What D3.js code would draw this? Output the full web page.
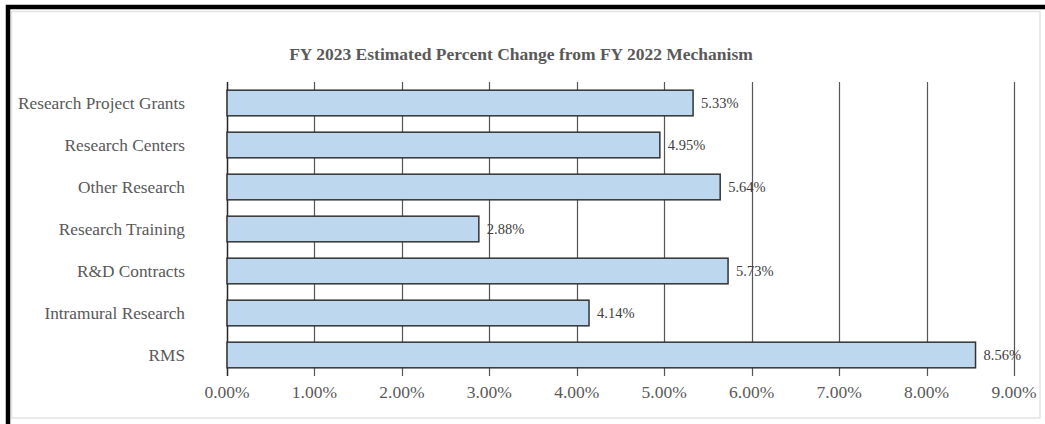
<!DOCTYPE html>
<html>
<head>
<meta charset="utf-8">
<script src="https://cdn.jsdelivr.net/npm/d3@7"></script>
<style>
  body { margin: 0; background: #fff; }
  svg { display: block; }
</style>
</head>
<body>
<div id="chart"></div>
<script>
// chart data
const categories = ["Research Project Grants", "Research Centers", "Other Research",
  "Research Training", "R&D Contracts", "Intramural Research", "RMS"];
const pctChange = [5.33, 4.95, 5.64, 2.88, 5.73, 4.14, 8.56];
const xTicks = [0, 1, 2, 3, 4, 5, 6, 7, 8, 9];
const chartTitle = "FY 2023 Estimated Percent Change from FY 2022 Mechanism";

const rows = categories.map((c, i) => ({ name: c, value: pctChange[i] }));

const width = 1045, height = 424;
const margin = {top: 82, right: 31, bottom: 48, left: 227};
const visWidth = width - margin.left - margin.right;
const visHeight = height - margin.top - margin.bottom;
const font = "'Liberation Serif', 'Times New Roman', serif";

const svg = d3.select("#chart").append("svg")
    .attr("width", width)
    .attr("height", height);

// frame: black edge on top/left, light grey chart border
svg.append("rect")
    .attr("x", 0).attr("y", 0).attr("width", width).attr("height", height)
    .attr("fill", "#fff");
svg.append("rect")
    .attr("x", 11.5).attr("y", 11.5)
    .attr("width", 1040 - 11.5).attr("height", 418 - 11.5)
    .attr("fill", "none")
    .attr("stroke", "#e3e3e3")
    .attr("stroke-width", 1.5);
svg.append("path")
    .attr("d", `M8,${height} V7 H${width}`)
    .attr("fill", "none")
    .attr("stroke", "#000")
    .attr("stroke-width", 4.5);

const x = d3.scaleLinear()
    .domain([0, 9])
    .range([0, visWidth]);

const y = d3.scaleBand()
    .domain(categories)
    .range([0, visHeight])
    .paddingInner(0.39)
    .paddingOuter(0.195);

const g = svg.append("g")
    .attr("transform", `translate(${margin.left}, ${margin.top})`);

// vertical grid lines
g.append("g")
  .selectAll("line")
  .data(xTicks)
  .join("line")
    .attr("x1", d => Math.round(x(d)) + 0.5)
    .attr("x2", d => Math.round(x(d)) + 0.5)
    .attr("y1", 0)
    .attr("y2", visHeight)
    .attr("stroke", d => d === 0 ? "#262626" : "#555")
    .attr("stroke-width", d => d === 0 ? 1.5 : 1.2);

// bars
g.append("g")
  .selectAll("rect")
  .data(rows)
  .join("rect")
    .attr("x", x(0))
    .attr("y", d => y(d.name))
    .attr("width", d => x(d.value) - x(0))
    .attr("height", y.bandwidth())
    .attr("fill", "#bdd7ee")
    .attr("stroke", "#333")
    .attr("stroke-width", 1.5);

// value labels
g.append("g")
  .selectAll("text")
  .data(rows)
  .join("text")
    .attr("x", d => x(d.value) + 8)
    .attr("y", d => y(d.name) + y.bandwidth() / 2)
    .attr("dy", "0.35em")
    .attr("font-family", font)
    .attr("font-size", "14.5px")
    .attr("fill", "#404040")
    .text(d => d.value.toFixed(2) + "%");

// category labels
g.append("g")
  .selectAll("text")
  .data(rows)
  .join("text")
    .attr("x", -42)
    .attr("y", d => y(d.name) + y.bandwidth() / 2)
    .attr("dy", "0.35em")
    .attr("text-anchor", "end")
    .attr("font-family", font)
    .attr("font-size", "17.3px")
    .attr("fill", "#595959")
    .text(d => d.name);

// x tick labels
g.append("g")
  .selectAll("text")
  .data(xTicks)
  .join("text")
    .attr("x", d => x(d))
    .attr("y", visHeight + 22)
    .attr("text-anchor", "middle")
    .attr("font-family", font)
    .attr("font-size", "17.5px")
    .attr("fill", "#595959")
    .text(d => d.toFixed(2) + "%");

// title
svg.append("text")
    .attr("x", 521)
    .attr("y", 60)
    .attr("text-anchor", "middle")
    .attr("font-family", font)
    .attr("font-weight", "bold")
    .attr("font-size", "17.5px")
    .attr("fill", "#595959")
    .text(chartTitle);
</script>
</body>
</html>
